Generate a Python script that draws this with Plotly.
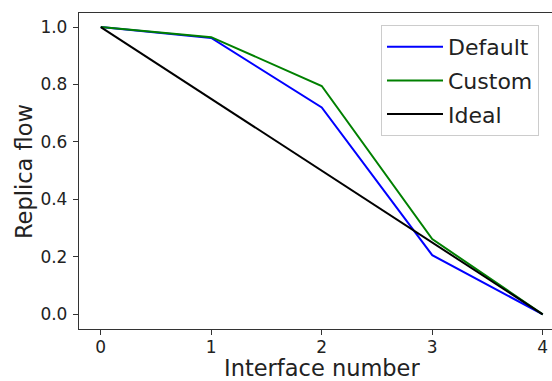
import plotly.graph_objects as go

interfaces = [0, 1, 2, 3, 4]
default_flow = [1.0, 0.962, 0.720, 0.206, 0.0]
custom_flow = [1.0, 0.965, 0.795, 0.262, 0.0]
ideal_flow = [1.0, 0.75, 0.5, 0.25, 0.0]
y_ticks = [0.0, 0.2, 0.4, 0.6, 0.8, 1.0]
x_ticks = [0, 1, 2, 3, 4]

FONT = "DejaVu Sans"

fig = go.Figure()
for name, vals, color, grp in [("Default", default_flow, "#0000ff", "a"),
                               ("Custom", custom_flow, "#008000", "b"),
                               ("Ideal", ideal_flow, "#000000", "c")]:
    fig.add_trace(go.Scatter(x=interfaces, y=vals, mode="lines", name=name,
                             line=dict(color=color, width=2), legendgroup=grp))

axis_common = dict(showgrid=False, zeroline=False, showline=True, linecolor="#333333",
                   linewidth=1.3, ticks="outside", ticklen=5, tickwidth=1.2,
                   tickcolor="#333333", tickfont=dict(family=FONT, size=17, color="#222222"))

fig.update_xaxes(range=[-0.197, 4.084], tickvals=x_ticks, mirror=True,
                 ticklabelstandoff=-3, **axis_common)
fig.update_yaxes(range=[-0.051, 1.049], tickvals=y_ticks, tickformat=".1f",
                 ticklabelstandoff=2, **axis_common)

fig.add_annotation(text="Interface number", xref="paper", yref="paper",
                   x=(321.7 - 79) / 473, y=-(367.5 - 329) / 316, xanchor="center", yanchor="middle",
                   height=22, valign="middle",
                   showarrow=False, font=dict(family=FONT, size=22.5, color="#222222"))
fig.add_annotation(text="Replica flow", xref="paper", yref="paper",
                   x=-(79 - 23.5) / 473, y=(329 - 171.5) / 316, xanchor="center", yanchor="middle",
                   textangle=-90, showarrow=False, font=dict(family=FONT, size=22.5, color="#222222"))

fig.update_layout(
    width=552, height=381,
    margin=dict(l=79, r=0, t=13, b=52),
    plot_bgcolor="white", paper_bgcolor="white",
    font=dict(family=FONT),
    legend=dict(x=(381 - 79) / 473, y=(329 - 25) / 316, xanchor="left", yanchor="top",
                bordercolor="#cccccc", borderwidth=1, bgcolor="rgba(255,255,255,0.8)",
                font=dict(family=FONT, size=22, color="#222222"),
                itemwidth=56, tracegroupgap=2),
)

fig.write_html("out.html")
